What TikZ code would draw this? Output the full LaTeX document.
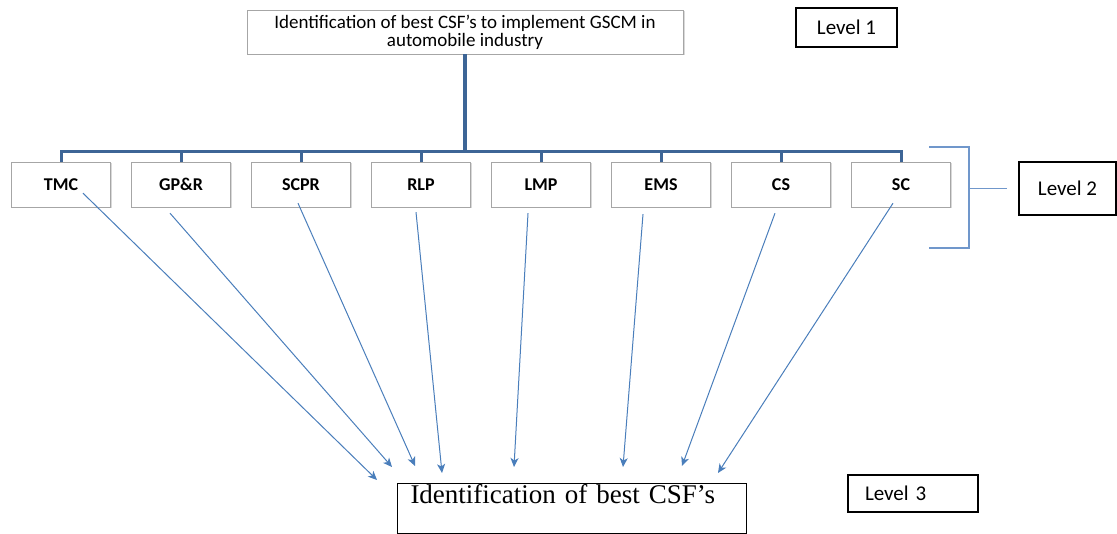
\documentclass[tikz,border=0pt]{standalone}
\usepackage{fontspec}
\setmainfont{Carlito}
\newfontfamily\timesfont{Liberation Serif}
\usepackage{tikz}
\usetikzlibrary{arrows.meta, shadows, calc}
\definecolor{trunkblue}{HTML}{3D6596}
\definecolor{arrowblue}{HTML}{4A7EBB}
\definecolor{bracketblue}{HTML}{7097CB}
\definecolor{boxgrey}{HTML}{A6A6A6}
\newcommand{\branch}[1]
{
	\draw[bar] (J) -| (#1.north)
}
\newcommand{\criterion}[4]
{
	\draw[link] ([shift={(#2,#3)}]#1.south) -- (#4)
}

\begin{document}
\begin{tikzpicture}[x=1pt, y=-1pt,
every node/.append style={shape=rectangle, inner sep=0pt},
goal/.style={draw=boxgrey, fill=white, minimum width=436, minimum height=44, align=center,
	font=\fontsize{19}{18}\selectfont, drop shadow={opacity=0.3, shadow xshift=1.5pt, shadow yshift=-1.5pt}},
crit/.style={draw=boxgrey, fill=white, minimum width=99, minimum height=45,
	font=\fontsize{18}{18}\selectfont\bfseries, drop shadow={opacity=0.3, shadow xshift=1.5pt, shadow yshift=-1.5pt}},
level/.style={draw=black, line width=1.2pt, font=\fontsize{21}{22}\selectfont},
bar/.style={draw=trunkblue, line width=3pt},
trunk/.style={draw=trunkblue, line width=4.5pt},
bracket/.style={draw=bracketblue, line width=1.5pt},
link/.style={draw=arrowblue, line width=1pt, -{Stealth[length=9pt, width=8pt, inset=2.5pt]}}]

\useasboundingbox (0,0) rectangle (1117,534);

\node[goal] at (465, 32) (Top){Identification of best CSF's to implement GSCM in\\automobile industry};

\node[crit] at (61, 184.5) (TMC){TMC};
\node[crit] at (181, 184.5) (GPR){GP\&R};
\node[crit] at (301, 184.5) (SCPR){SCPR};
\node[crit] at (421, 184.5) (RLP){RLP};
\node[crit] at (541, 184.5) (LMP){LMP};
\node[crit] at (661, 184.5) (EMS){EMS};
\node[crit] at (781, 184.5) (CS){CS};
\node[crit] at (901, 184.5) (SC){SC};

\node[draw=black, line width=1pt, anchor=north west, text width=323, inner xsep=13pt, inner ysep=3pt,
	text height=17pt, text depth=27pt, align=left, font=\timesfont\fontsize{27}{29}\selectfont]
	at (397, 483) (Best){Identification of best CSF’s};

\node[level, minimum width=101, minimum height=39] at (846.5, 27.5) (L1){Level 1};
\node[level, minimum width=97, minimum height=53] at (1067.5, 188.5) (L2){Level 2};
\node[level, minimum width=130, minimum height=37, text width=96, inner xsep=17pt, align=left] at (913, 493.5) (L3){Level 3};

\coordinate (J) at (465, 152);
\draw[trunk] (Top.south) -- (J);
\branch{TMC};
\branch{GPR};
\branch{SCPR};
\branch{RLP};
\branch{LMP};
\branch{EMS};
\branch{CS};
\branch{SC};

\draw[bracket] (929, 147) -| (969, 248) -- (929, 248);
\draw[bracket] (969, 188.5) -- ([xshift=-11pt]L2.west);

\coordinate (E1) at (377, 480);
\coordinate (E2) at (392, 467);
\coordinate (E3) at (415, 466);
\coordinate (E4) at (442, 473);
\coordinate (E5) at (514, 467);
\coordinate (E6) at (623, 467);
\coordinate (E7) at (682, 466);
\coordinate (E8) at (718, 473);
\criterion{TMC}{22}{-14}{E1};
\criterion{GPR}{-11}{6}{E2};
\criterion{SCPR}{-3}{-4}{E3};
\criterion{RLP}{-5}{5}{E4};
\criterion{LMP}{-13}{6}{E5};
\criterion{EMS}{-18}{7}{E6};
\criterion{CS}{-6}{6}{E7};
\criterion{SC}{-8}{-4}{E8};
\end{tikzpicture}
\end{document}
